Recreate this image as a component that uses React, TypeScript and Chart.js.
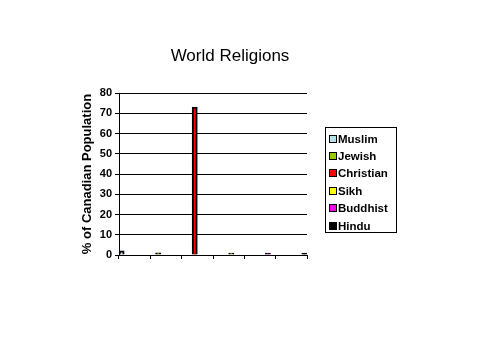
import React, { useEffect, useRef } from "react";
import { Chart, registerables } from "chart.js";

Chart.register(...registerables);

const religions = ["Muslim", "Jewish", "Christian", "Sikh", "Buddhist", "Hindu"];
const percentages = [2.0, 1.1, 73.0, 0.9, 1.0, 1.0];
const colors = ["#B4E2E6", "#99CC00", "#FF0000", "#FFFF00", "#FF00FF", "#000000"];
const yTicks = [0, 10, 20, 30, 40, 50, 60, 70, 80];

const FONT = "'Liberation Sans', Arial, sans-serif";

export default function App() {
  const ref = useRef<HTMLCanvasElement | null>(null);

  useEffect(() => {
    if (!ref.current) return;
    const datasets = religions.map((name, i) => ({
      label: name,
      data: religions.map((_, j) => (j === i ? percentages[i] : null)),
      backgroundColor: colors[i],
      borderColor: "#000000",
      borderWidth: 2,
      categoryPercentage: 1.0,
      barPercentage: 1.0,
    }));
    const chart = new Chart(ref.current, {
      type: "bar",
      data: { labels: religions, datasets },
      options: {
        animation: false,
        responsive: false,
        layout: { padding: { top: 93, left: 76, right: 173, bottom: 99 } },
        plugins: {
          legend: { display: false },
          tooltip: { enabled: false },
          title: { display: false },
        },
        scales: {
          x: {
            ticks: { display: false },
            grid: {
              drawOnChartArea: false,
              drawTicks: true,
              tickLength: 4,
              color: "#000000",
              offset: true,
            },
            border: { display: true, color: "#000000", width: 1 },
            afterFit: (s: any) => {
              s.height = 6;
            },
          },
          y: {
            min: 0,
            max: 80,
            afterBuildTicks: (s: any) => {
              s.ticks = yTicks.map((v) => ({ value: v }));
            },
            ticks: {
              color: "#000000",
              padding: 3,
              font: { family: FONT, size: 11, weight: "bold" },
            },
            grid: { color: "#000000", tickLength: 4, drawTicks: true },
            border: { display: true, color: "#000000", width: 1 },
            title: {
              display: true,
              text: "% of Canadian Population",
              color: "#000000",
              font: { family: FONT, size: 13, weight: "bold" },
              padding: { top: 4, bottom: 4 },
            },
            afterFit: (s: any) => {
              s.width = 43;
            },
          },
        },
      },
    });
    return () => chart.destroy();
  }, []);

  return (
    <div
      style={{
        position: "fixed",
        left: 0,
        top: 0,
        width: 480,
        height: 360,
        background: "#ffffff",
      }}
    >
      <canvas ref={ref} width={480} height={360} style={{ display: "block" }} />
      <div
        style={{
          position: "absolute",
          left: 130,
          top: 46,
          width: 200,
          textAlign: "center",
          fontFamily: FONT,
          fontSize: "17px",
          lineHeight: "20px",
          color: "#000000",
        }}
      >
        World Religions
      </div>
      <div
        style={{
          position: "absolute",
          left: 325,
          top: 127,
          width: 70,
          height: 102,
          border: "1px solid #000000",
          fontFamily: FONT,
          fontWeight: "bold",
          fontSize: "11.5px",
          color: "#000000",
          paddingTop: 2,
          boxSizing: "content-box",
        }}
      >
        {religions.map((name, i) => (
          <div
            key={name}
            style={{
              display: "flex",
              alignItems: "center",
              height: 17.4,
              paddingLeft: 3,
            }}
          >
            <span
              style={{
                display: "inline-block",
                width: 6,
                height: 6,
                border: "1px solid #000000",
                background: colors[i],
                marginRight: 1,
              }}
            />
            <span>{name}</span>
          </div>
        ))}
      </div>
    </div>
  );
}
